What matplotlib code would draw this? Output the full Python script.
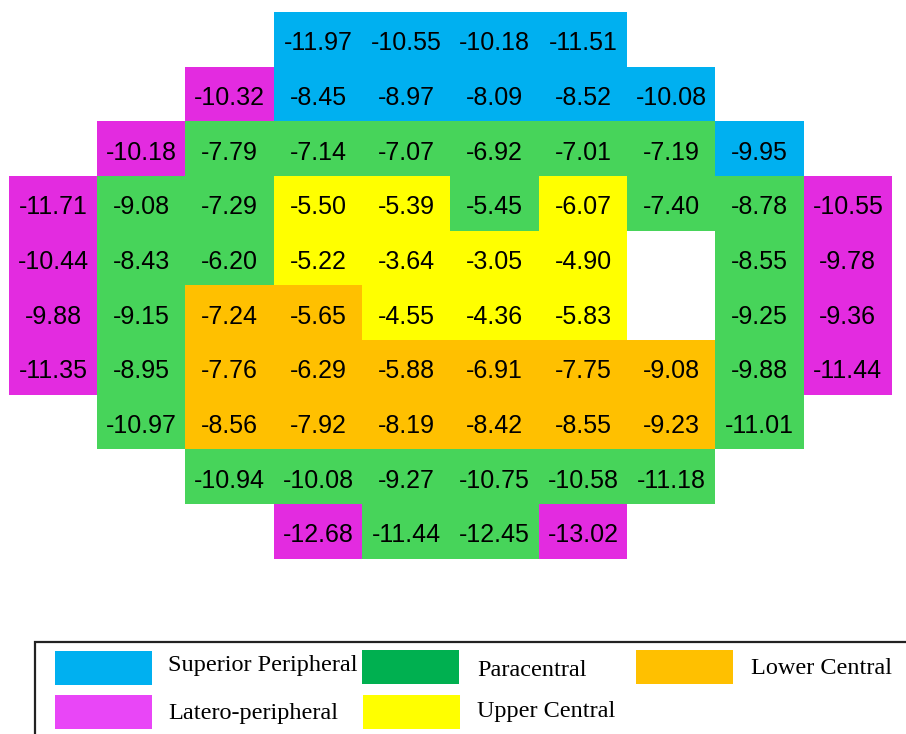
import numpy as np
import matplotlib
matplotlib.use("Agg")
import matplotlib.pyplot as plt
from matplotlib.colors import ListedColormap
from matplotlib.patches import Rectangle

# Mean sensitivity values per test location (rows top to bottom, columns left to right)
values = [
    [None, None, None, -11.97, -10.55, -10.18, -11.51, None, None, None],
    [None, None, -10.32, -8.45, -8.97, -8.09, -8.52, -10.08, None, None],
    [None, -10.18, -7.79, -7.14, -7.07, -6.92, -7.01, -7.19, -9.95, None],
    [-11.71, -9.08, -7.29, -5.50, -5.39, -5.45, -6.07, -7.40, -8.78, -10.55],
    [-10.44, -8.43, -6.20, -5.22, -3.64, -3.05, -4.90, None, -8.55, -9.78],
    [-9.88, -9.15, -7.24, -5.65, -4.55, -4.36, -5.83, None, -9.25, -9.36],
    [-11.35, -8.95, -7.76, -6.29, -5.88, -6.91, -7.75, -9.08, -9.88, -11.44],
    [None, -10.97, -8.56, -7.92, -8.19, -8.42, -8.55, -9.23, -11.01, None],
    [None, None, -10.94, -10.08, -9.27, -10.75, -10.58, -11.18, None, None],
    [None, None, None, -12.68, -11.44, -12.45, -13.02, None, None, None],
]

# Region of each location: S superior peripheral, L latero-peripheral,
# P paracentral, U upper central, C lower central, . not tested
regions = [
    "...SSSS...",
    "..LSSSSS..",
    ".LPPPPPPS.",
    "LPPUUPUPPL",
    "LPPUUUU.PL",
    "LPCCUUU.PL",
    "LPCCCCCCPL",
    ".PCCCCCCP.",
    "..PPPPPP..",
    "...LPPL...",
]

region_codes = ["S", "L", "P", "U", "C"]
region_names = ["Superior Peripheral", "Latero-peripheral", "Paracentral",
                "Upper Central", "Lower Central"]
cell_colors = ["#00B0F0", "#E32BE0", "#47D45A", "#FFFF00", "#FFC000"]
legend_colors = ["#00B0F0", "#E946F7", "#00B050", "#FFFF00", "#FFC000"]

nrows, ncols = len(values), len(values[0])
codes = np.full((nrows, ncols), np.nan)
for r, row in enumerate(regions):
    for c, ch in enumerate(row):
        if ch in region_codes:
            codes[r, c] = region_codes.index(ch)
codes = np.ma.masked_invalid(codes)

W, H = 906, 734
fig = plt.figure(figsize=(W / 100, H / 100), dpi=100)
ax = fig.add_axes([9 / W, 1 - 559 / H, 883 / W, 547 / H])
ax.imshow(codes, cmap=ListedColormap(cell_colors), vmin=-0.5, vmax=4.5,
          extent=(-0.5, ncols - 0.5, nrows - 0.5, -0.5), aspect="auto",
          interpolation="nearest")
for r in range(nrows):
    for c in range(ncols):
        v = values[r][c]
        if v is not None:
            ax.text(c, r + 0.07, f"{v:.2f}", ha="center", va="center",
                    fontsize=18, family="Liberation Sans", color="black")
ax.set_xlim(-0.5, ncols - 0.5)
ax.set_ylim(nrows - 0.5, -0.5)
ax.axis("off")

# Legend panel, laid out in pixel coordinates
lax = fig.add_axes([0, 0, 1, 1])
lax.set_xlim(0, W)
lax.set_ylim(H, 0)
lax.axis("off")
lax.plot([35, 35, W + 5], [H + 5, 641.5, 641.5], color="#222222", lw=1.6,
         solid_capstyle="butt", solid_joinstyle="miter")

legend_layout = {
    "S": ((55, 651), (168, 666)),
    "P": ((362, 650), (477, 670)),
    "C": ((636, 650), (751, 668)),
    "L": ((55, 695), (168, 713)),
    "U": ((363, 695), (477, 712)),
}
for code, ((px, py), (tx, ty)) in legend_layout.items():
    i = region_codes.index(code)
    lax.add_patch(Rectangle((px, py), 97, 34, facecolor=legend_colors[i],
                            edgecolor="none"))
    lax.text(tx, ty, region_names[i], ha="left", va="center",
             fontsize=17.5, family="Liberation Serif", color="black")

fig.savefig("out.png", dpi=100)
